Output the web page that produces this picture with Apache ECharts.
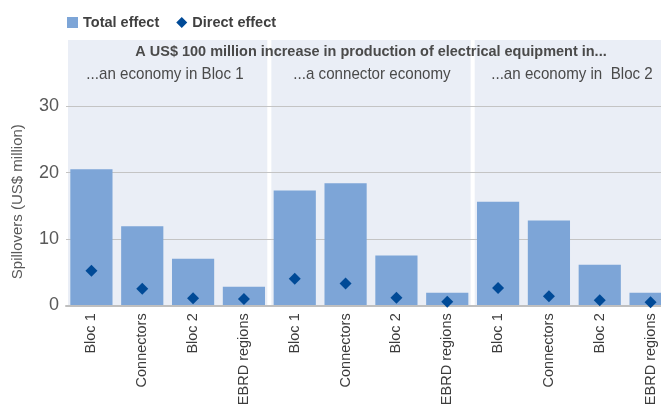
<!DOCTYPE html>
<html>
<head>
<meta charset="utf-8">
<script src="https://cdn.jsdelivr.net/npm/echarts@6/dist/echarts.min.js"></script>
<style>
  html, body { margin: 0; padding: 0; background: #ffffff; }
  #chart { width: 661px; height: 406px; }
</style>
</head>
<body>
<div id="chart"></div>
<script>
// Receiving regions, repeated for each origin economy group
const categories = [
  'Bloc 1', 'Connectors', 'Bloc 2', 'EBRD regions',
  'Bloc 1', 'Connectors', 'Bloc 2', 'EBRD regions',
  'Bloc 1', 'Connectors', 'Bloc 2', 'EBRD regions'
];
// Origin of the production increase (one panel each)
const panels = ['...an economy in Bloc 1', '...a connector economy', '...an economy in  Bloc 2'];
// Spillovers, US$ million
const totalEffect  = [20.5, 11.9, 7.0, 2.8, 17.3, 18.4, 7.5, 1.9, 15.6, 12.8, 6.1, 1.9];
const directEffect = [5.2, 2.5, 1.05, 0.95, 4.0, 3.3, 1.15, 0.55, 2.6, 1.35, 0.75, 0.45];
const yTicks = [0, 10, 20, 30];
const yMax = 40;
const headline = 'A US$ 100 million increase in production of electrical equipment in...';

const plain = '"Liberation Sans", Arial, sans-serif';

const chart = echarts.init(document.getElementById('chart'), null, { renderer: 'canvas' });

// narrow-set header text
function header(text, x, y, font, scale) {
  return {
    type: 'text', x: x, y: y, z: 10, scaleX: scale,
    style: { text: text, align: 'center', verticalAlign: 'middle', font: font, fill: '#4a4a4a' }
  };
}

chart.setOption({
  animation: false,
  backgroundColor: '#ffffff',
  legend: {
    left: 62,
    top: 10,
    itemWidth: 11,
    itemHeight: 11,
    itemGap: 17,
    textStyle: { fontFamily: plain, fontSize: 14.5, fontWeight: 'bold', color: '#404040' },
    data: [
      { name: 'Total effect', icon: 'rect' },
      { name: 'Direct effect', icon: 'diamond' }
    ]
  },
  grid: { left: 66, top: 40, width: 610, height: 265.3, outerBoundsMode: 'none', containLabel: false },
  xAxis: [
    {
      type: 'category',
      data: categories,
      axisTick: { show: false },
      axisLine: { show: true, lineStyle: { color: '#bfbfbf', width: 2 } },
      axisLabel: {
        rotate: 90, interval: 0, margin: 8,
        fontFamily: plain, fontSize: 14.5, color: '#3c3c3c'
      },
      z: 3
    },
    {
      type: 'category',
      data: panels,
      show: false
    }
  ],
  yAxis: {
    type: 'value',
    min: 0, max: yMax, interval: 10,
    name: 'Spillovers (US$ million)',
    nameLocation: 'middle',
    nameGap: 41,
    nameTextStyle: { fontFamily: plain, fontSize: 15, color: '#595959', padding: [0, 58, 0, 0] },
    axisLine: { show: false },
    axisTick: { show: false },
    axisLabel: {
      margin: 7,
      fontFamily: plain, fontSize: 18, color: '#595959',
      formatter: v => (yTicks.indexOf(v) >= 0 ? String(v) : '')
    },
    splitLine: { show: true, showMaxLine: false, lineStyle: { color: '#c4c4c4', width: 1 } },
    z: 1
  },
  series: [
    {
      // shaded panel behind each origin group
      type: 'bar',
      xAxisIndex: 1,
      data: panels.map(() => yMax),
      barCategoryGap: '2%',
      itemStyle: { color: '#eaeef6' },
      silent: true,
      legendHoverLink: false,
      z: 0
    },
    {
      name: 'Total effect',
      type: 'bar',
      data: totalEffect,
      barCategoryGap: '17%',
      itemStyle: { color: '#7da5d7' },
      z: 2
    },
    {
      name: 'Direct effect',
      type: 'scatter',
      data: directEffect,
      symbol: 'diamond',
      symbolSize: 12,
      itemStyle: { color: '#004a97', opacity: 1 },
      z: 4
    }
  ],
  graphic: [
    header(headline, 371, 52, 'bold 15px ' + plain, 0.965),
    header(panels[0], 165, 74, '17px ' + plain, 0.89),
    header(panels[1], 372, 74, '17px ' + plain, 0.89),
    header(panels[2], 572, 74, '17px ' + plain, 0.89)
  ]
});
</script>
</body>
</html>
